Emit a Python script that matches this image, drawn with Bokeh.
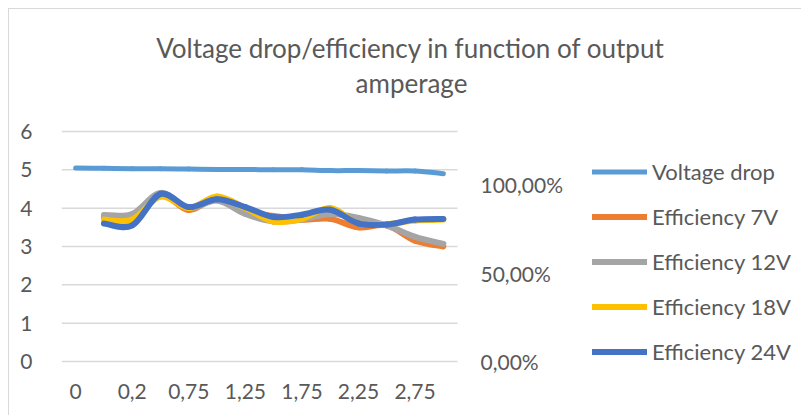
from bokeh.plotting import figure
from bokeh.models import (Range1d, FixedTicker, Legend, LegendItem, Label,
                          ColumnDataSource)
from bokeh.embed import file_html
from bokeh.resources import INLINE

# ---------------- data ----------------
categories = ["0", "0,1", "0,2", "0,5", "0,75", "1", "1,25", "1,5", "1,75",
              "2", "2,25", "2,5", "2,75", "3"]
# only every second category label is shown on the axis
voltage_drop = [5.05, 5.04, 5.03, 5.03, 5.02, 5.01, 5.01, 5.00, 5.00,
                4.98, 4.98, 4.97, 4.97, 4.90]
eff_7v = [None, 0.812, 0.812, 0.942, 0.856, 0.921, 0.841, 0.823, 0.802,
          0.806, 0.758, 0.769, 0.683, 0.650]
eff_12v = [None, 0.828, 0.834, 0.953, 0.867, 0.910, 0.834, 0.791, 0.802,
           0.834, 0.812, 0.769, 0.704, 0.665]
eff_18v = [None, 0.802, 0.802, 0.932, 0.867, 0.932, 0.867, 0.791, 0.806,
           0.867, 0.780, 0.776, 0.797, 0.802]
eff_24v = [None, 0.780, 0.769, 0.947, 0.873, 0.917, 0.873, 0.817, 0.830,
           0.858, 0.780, 0.774, 0.802, 0.806]

series_names = ["Voltage drop", "Efficiency 7V", "Efficiency 12V",
                "Efficiency 18V", "Efficiency 24V"]
title_lines = ["Voltage drop/efficiency in function of output", "amperage"]
left_ticks = [0, 1, 2, 3, 4, 5, 6]
right_ticks = [0, 0.5, 1.0]
right_max = 1.3          # secondary axis maximum (aligned with left 6)

colors = ["#5B9BD5", "#ED7D31", "#A5A5A5", "#FFC000", "#4472C4"]
TEXT = "#595959"
GRID = "#d9d9d9"
FONT = "Lato"
FS = "21px"

# ---------------- geometry (page pixels) ----------------
PAGE_W, PAGE_H = 802, 416
ORIGIN = 9                     # chart box (with its grey border) starts here
PLOT_LEFT, PLOT_RIGHT = 61, 457
Y_ZERO, Y_TOP = 361, 131       # pixel rows of the 0 and 6 gridlines
FRAME_BOTTOM = 376

W, H = PAGE_W - ORIGIN, PAGE_H - ORIGIN
n_cat = len(categories)
px_per_cat = (PLOT_RIGHT - PLOT_LEFT) / n_cat
x_lo = -0.5
x_hi_plot = n_cat - 0.5
x_hi = x_lo + (PAGE_W - PLOT_LEFT) / px_per_cat
px_per_unit = (Y_ZERO - Y_TOP) / left_ticks[-1]
y_lo = -(FRAME_BOTTOM - Y_ZERO) / px_per_unit
y_hi = (Y_ZERO - ORIGIN) / px_per_unit
px_per_eff = (Y_ZERO - Y_TOP) / right_max
eff_lo = -(FRAME_BOTTOM - Y_ZERO) / px_per_eff
eff_hi = (Y_ZERO - ORIGIN) / px_per_eff


def smooth_source(values):
    """Cubic Bezier segments through the data points (Excel-like smoothing)."""
    pts = [(i, v) for i, v in enumerate(values) if v is not None]
    n = len(pts)
    d = dict(x0=[], y0=[], x1=[], y1=[], cx0=[], cy0=[], cx1=[], cy1=[])
    for i in range(n - 1):
        pa = pts[max(i - 1, 0)]
        p1 = pts[i]
        p2 = pts[i + 1]
        pb = pts[min(i + 2, n - 1)]
        d["x0"].append(p1[0]); d["y0"].append(p1[1])
        d["x1"].append(p2[0]); d["y1"].append(p2[1])
        d["cx0"].append(p1[0] + (p2[0] - pa[0]) / 6)
        d["cy0"].append(p1[1] + (p2[1] - pa[1]) / 6)
        d["cx1"].append(p2[0] - (pb[0] - p1[0]) / 6)
        d["cy1"].append(p2[1] - (pb[1] - p1[1]) / 6)
    return ColumnDataSource(d)


p = figure(width=W, height=H, output_backend="svg", toolbar_location=None,
           x_range=Range1d(x_lo, x_hi), y_range=Range1d(y_lo, y_hi),
           min_border_left=PLOT_LEFT - ORIGIN, min_border_right=0,
           min_border_top=0, min_border_bottom=PAGE_H - FRAME_BOTTOM)
p.styles = {"margin-left": "8px", "margin-top": "8px",
            "border-top": "1px solid #d9d9d9", "border-left": "1px solid #d9d9d9"}
p.outline_line_color = None
p.background_fill_color = "white"
p.border_fill_color = "white"
p.extra_y_ranges = {"eff": Range1d(eff_lo, eff_hi)}

# category axis
xa = p.xaxis[0]
xa.ticker = FixedTicker(ticks=list(range(0, n_cat, 2)))
xa.major_label_overrides = {i: categories[i] for i in range(0, n_cat, 2)}
xa.axis_line_color = None
xa.major_tick_line_color = None
xa.minor_tick_line_color = None
xa.major_label_standoff = 1
xa.major_label_text_font = FONT
xa.major_label_text_font_size = FS
xa.major_label_text_color = TEXT

# primary value axis
ya = p.yaxis[0]
ya.ticker = FixedTicker(ticks=left_ticks)
ya.axis_line_color = None
ya.major_tick_line_color = None
ya.minor_tick_line_color = None
ya.major_label_standoff = 23
ya.major_label_text_font = FONT
ya.major_label_text_font_size = FS
ya.major_label_text_color = TEXT

# gridlines only across the category area
p.xgrid.visible = False
p.ygrid.visible = False
p.segment(x0=[x_lo] * len(left_ticks), x1=[x_hi_plot] * len(left_ticks),
          y0=left_ticks, y1=left_ticks, line_color=GRID, line_width=1.5)

# secondary (percentage) axis labels
for t in right_ticks:
    txt = ("%.2f" % (t * 100)).replace(".", ",") + "%"
    p.add_layout(Label(x=x_hi_plot, y=t, y_range_name="eff", x_offset=23,
                       text=txt, text_align="left", text_baseline="middle",
                       text_font=FONT, text_font_size=FS, text_color=TEXT))

# series
renderers = []
r = p.bezier(x0="x0", y0="y0", x1="x1", y1="y1", cx0="cx0", cy0="cy0",
             cx1="cx1", cy1="cy1", source=smooth_source(voltage_drop),
             line_color=colors[0], line_width=5, line_cap="round")
renderers.append(r)
for vals, col in zip([eff_7v, eff_12v, eff_18v, eff_24v], colors[1:]):
    r = p.bezier(x0="x0", y0="y0", x1="x1", y1="y1", cx0="cx0", cy0="cy0",
                 cx1="cx1", cy1="cy1", source=smooth_source(vals),
                 line_color=col, line_width=6, line_cap="round",
                 y_range_name="eff")
    renderers.append(r)

legend = Legend(items=[LegendItem(label=n, renderers=[rr])
                       for n, rr in zip(series_names, renderers)],
                location=(592 - PLOT_LEFT, FRAME_BOTTOM - 365),
                orientation="vertical",
                glyph_width=55, glyph_height=27, label_height=27, spacing=18,
                label_standoff=5, padding=0, margin=0,
                border_line_color=None, background_fill_alpha=0,
                label_text_font=FONT, label_text_font_size="22px",
                label_text_color=TEXT)
p.add_layout(legend, "center")

# chart title (two centred lines)
for txt, (cx, cy) in zip(title_lines, [(410, 47), (411, 82)]):
    p.add_layout(Label(x=cx - PLOT_LEFT, y=FRAME_BOTTOM - cy, x_units="screen",
                       y_units="screen", text=txt, text_align="center",
                       text_baseline="middle", text_font=FONT,
                       text_font_size="26px", text_color=TEXT))

open("out.html", "w").write(file_html(p, INLINE))
